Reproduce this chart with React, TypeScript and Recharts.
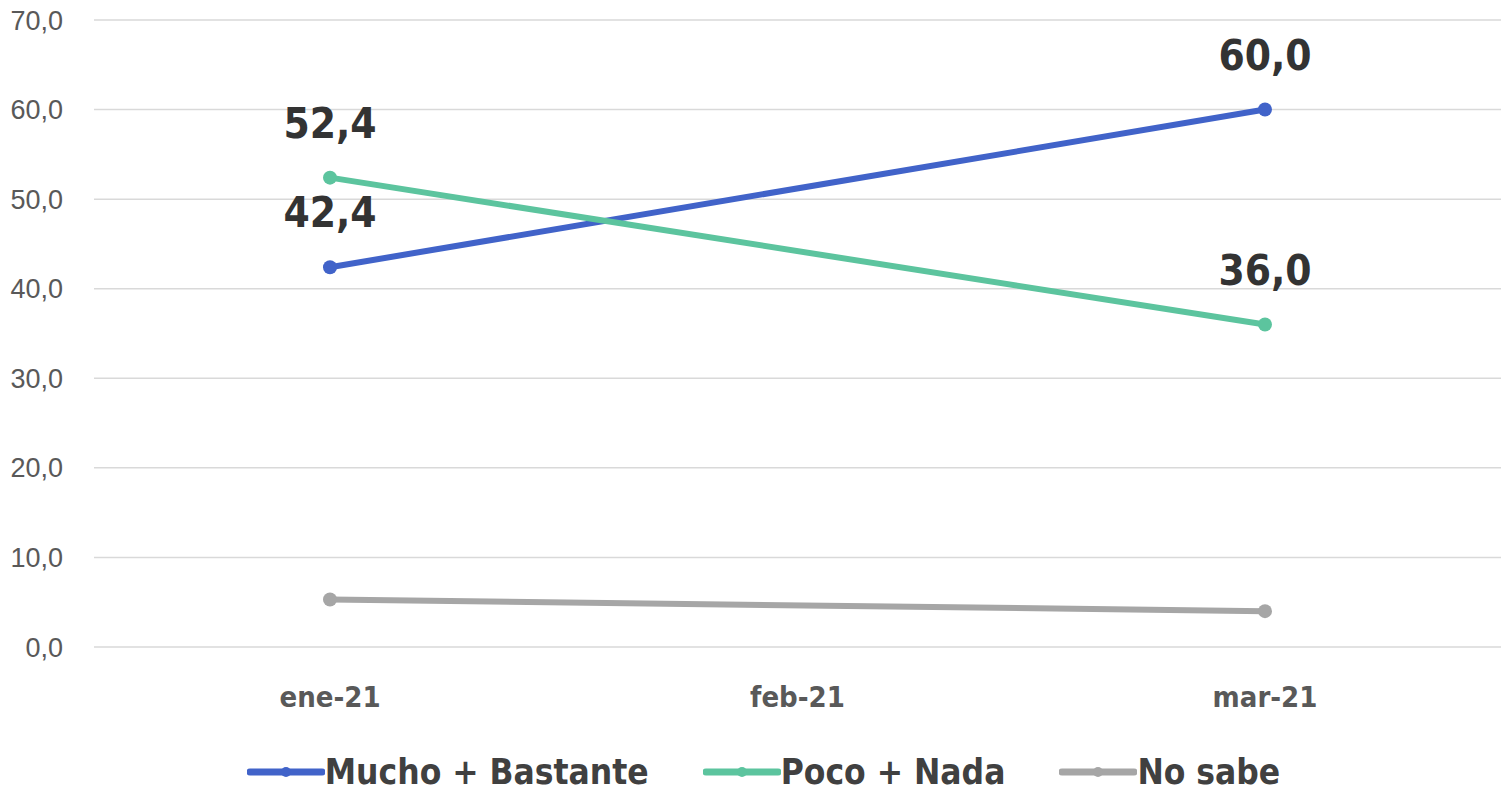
import { LineChart, Line, XAxis, YAxis, CartesianGrid, Legend, LabelList } from 'recharts';

const meses = ['ene-21', 'feb-21', 'mar-21'];
const muchoBastante = [42.4, null, 60.0];
const pocoNada = [52.4, null, 36.0];
const noSabe = [5.3, null, 4.0];
const yTicks = [0, 10, 20, 30, 40, 50, 60, 70];

const series = [
    { key: 'mucho', name: 'Mucho + Bastante', color: '#4163c9', labels: true },
    { key: 'poco', name: 'Poco + Nada', color: '#5cc49e', labels: true },
    { key: 'nosabe', name: 'No sabe', color: '#a6a6a6', labels: false },
];

const data = meses.map((m, i) => ({
    mes: m,
    mucho: muchoBastante[i],
    poco: pocoNada[i],
    nosabe: noSabe[i],
}));

const condensed = "'Liberation Sans Narrow', 'DejaVu Sans Condensed', 'Arial Narrow', sans-serif";
const fmt = (v: any) => (v == null ? '' : Number(v).toFixed(1).replace('.', ','));

function LegendBox() {
    return (
        <div style={{ height: 50, marginTop: 6, display: 'flex', justifyContent: 'center', alignItems: 'center', gap: 54, paddingLeft: 26 }}>
            {series.map((s) => (
                <div key={s.key} style={{ display: 'flex', alignItems: 'center' }}>
                    <svg width={78} height={20}>
                        <line x1={3} y1={10} x2={75} y2={10} stroke={s.color} strokeWidth={7} strokeLinecap="round" />
                        <circle cx={39} cy={10} r={5} fill={s.color} />
                    </svg>
                    <span style={{ fontFamily: condensed, fontWeight: 700, fontSize: 35, color: '#404040' }}>{s.name}</span>
                </div>
            ))}
        </div>
    );
}

export default function App() {
    return (
        <div style={{ position: 'absolute', left: 0, top: 0, width: 1501, height: 800, background: '#fff' }}>
            <LineChart width={1501} height={800} data={data} margin={{ top: 20, right: 0, bottom: 3, left: 0 }}>
                <CartesianGrid vertical={false} stroke="#d9d9d9" strokeWidth={1.5} />
                <XAxis
                    dataKey="mes"
                    axisLine={false}
                    tickLine={false}
                    height={94}
                    tickMargin={33}
                    padding={{ left: 236, right: 236 }}
                    tick={{ fontFamily: condensed, fontWeight: 700, fontSize: 29, fill: '#595959' }}
                />
                <YAxis
                    domain={[0, 70]}
                    ticks={yTicks}
                    width={94}
                    axisLine={false}
                    tickLine={false}
                    tickMargin={25}
                    tickFormatter={fmt}
                    tick={{ fontFamily: "'Liberation Sans', Arial, sans-serif", fontSize: 27, fill: '#595959' }}
                />
                <Legend verticalAlign="bottom" content={() => <LegendBox />} />
                {series.map((s) => (
                    <Line
                        key={s.key}
                        dataKey={s.key}
                        name={s.name}
                        stroke={s.color}
                        strokeWidth={6}
                        connectNulls
                        dot={{ r: 7, fill: s.color, stroke: s.color, strokeWidth: 0 }}
                        isAnimationActive={false}
                    >
                        {s.labels && (
                            <LabelList
                                dataKey={s.key}
                                position="top"
                                offset={40}
                                formatter={fmt}
                                style={{ fontFamily: condensed, fontWeight: 700, fontSize: 42, fill: '#333333' }}
                            />
                        )}
                    </Line>
                ))}
            </LineChart>
        </div>
    );
}
